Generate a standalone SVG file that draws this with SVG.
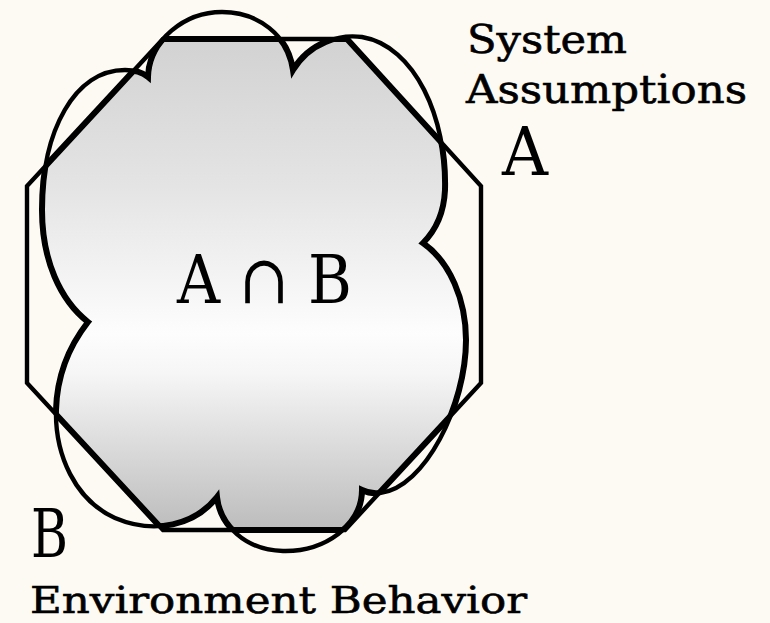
<svg xmlns="http://www.w3.org/2000/svg" width="770" height="623" viewBox="0 0 770 623">
  <style>
    .outline { fill: none; stroke: #000; stroke-width: 4.4; stroke-linejoin: miter; }
    .bold { fill: none; stroke: #000; stroke-width: 6; }
    .label { font-family: "DejaVu Serif", "Liberation Serif", serif; fill: #000; stroke: #000; stroke-width: 0.6; }
    .big { font-family: "DejaVu Serif", "Liberation Serif", serif; fill: #000; font-size: 68px; }
  </style>
  <defs>
    <!-- system assumptions region A -->
    <polygon id="octShape" points="163,39 347,39 481,186 481,383 345,530 163,530 27,383 27,186"/>
    <!-- environment behaviour region B -->
    <path id="cloudShape" d="M148,77 C149,40 185,12 222,12 C258,12 288,35 293,70 C310,42 340,34 362,37 C415,46 447,118 445,190 C444,212 436,230 423,243 C450,262 466,300 466,340 C466,405 425,488 380,493 C372,494 366,492 362,490 C362,525 325,552 283,551 C245,550 220,525 217,497 C195,525 155,535 115,518 C75,500 55,455 56,410 C57,375 70,345 88,322 C60,300 42,260 42,210 C42,130 75,70 125,70 C135,70 142,72 148,77 Z"/>
    <clipPath id="clipOct"><use href="#octShape"/></clipPath>
    <clipPath id="clipCloud"><use href="#cloudShape"/></clipPath>
    <linearGradient id="shade" gradientUnits="userSpaceOnUse" x1="0" y1="39" x2="0" y2="530">
      <stop offset="0" stop-color="#d2d2d2"/>
      <stop offset="0.3" stop-color="#e4e4e4"/>
      <stop offset="0.6" stop-color="#fdfdfd"/>
      <stop offset="0.68" stop-color="#f6f6f6"/>
      <stop offset="1" stop-color="#bcbcbc"/>
    </linearGradient>
  </defs>

  <rect width="770" height="623" fill="#fdfaf3"/>

  <!-- shaded overlap A ∩ B -->
  <g id="intersection">
    <use href="#cloudShape" fill="url(#shade)" clip-path="url(#clipOct)"/>
    <use href="#cloudShape" class="bold" clip-path="url(#clipOct)"/>
    <use href="#octShape" class="bold" clip-path="url(#clipCloud)"/>
    <text class="big" x="177" y="303" textLength="175" lengthAdjust="spacingAndGlyphs">A ∩ B</text>
  </g>

  <g id="system-assumptions">
    <use href="#octShape" class="outline"/>
    <text class="label" font-size="40" x="467" y="53" textLength="160" lengthAdjust="spacingAndGlyphs">System</text>
    <text class="label" font-size="40" x="466" y="103" textLength="281" lengthAdjust="spacingAndGlyphs">Assumptions</text>
    <text class="big" x="502" y="175" textLength="46" lengthAdjust="spacingAndGlyphs">A</text>
  </g>

  <g id="environment-behavior">
    <use href="#cloudShape" class="outline"/>
    <text class="big" x="31" y="557" textLength="37" lengthAdjust="spacingAndGlyphs">B</text>
    <text class="label" font-size="38" x="30" y="613" textLength="497" lengthAdjust="spacingAndGlyphs">Environment Behavior</text>
  </g>
</svg>
